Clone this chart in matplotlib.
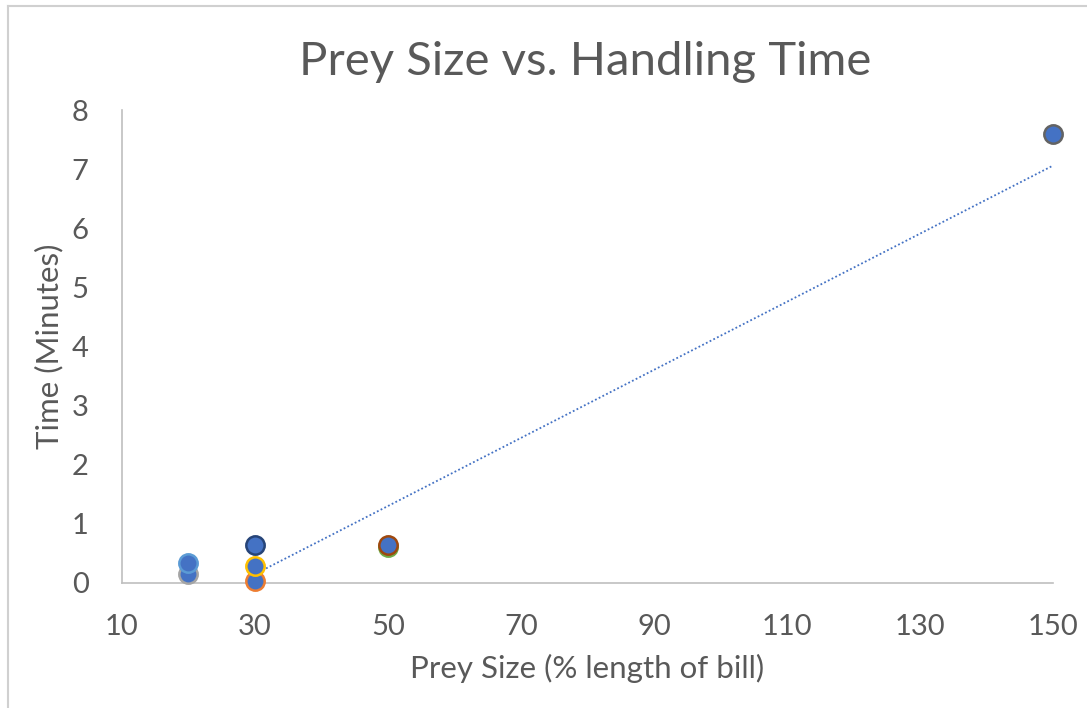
import matplotlib
matplotlib.use("Agg")
import matplotlib.pyplot as plt
from matplotlib.lines import Line2D

# handling time observations, one series per bird/trial
prey_size = [[30], [20], [30], [20], [50], [30], [50], [150]]
handling_time = [[0.03], [0.15], [0.29], [0.33], [0.60], [0.64], [0.64], [7.60]]
edge_colors = ["#ED7D31", "#A5A5A5", "#FFC000", "#5B9BD5",
               "#70AD47", "#264478", "#9E480E", "#636363"]

# linear trendline ends
trend_x = [30, 150]
trend_y = [0.15, 7.06]

x_ticks = [10, 30, 50, 70, 90, 110, 130, 150]
y_ticks = [0, 1, 2, 3, 4, 5, 6, 7, 8]

FILL = "#4472C4"
TEXT = "#595959"
AXIS = "#BFBFBF"

plt.rcParams["font.family"] = ["Lato", "DejaVu Sans"]

fig = plt.figure(figsize=(10.87, 7.08), dpi=100)
ax = fig.add_axes([0.1122, 0.1766, 0.8565, 0.668])

ax.plot(trend_x, trend_y, color=FILL, lw=1.3, ls=(0, (1, 1.3)), zorder=2)

for xs, ys, ec in zip(prey_size, handling_time, edge_colors):
    ax.scatter(xs, ys, s=175, color=FILL, edgecolors=ec, linewidths=1.8,
               zorder=3, clip_on=False)

ax.set_xlim(10, 150)
ax.set_ylim(0, 8)
ax.set_xticks(x_ticks)
ax.set_yticks(y_ticks)
ax.tick_params(length=0, labelsize=21, colors=TEXT)
ax.tick_params(axis="x", pad=22)
ax.tick_params(axis="y", pad=24)
for side in ("top", "right"):
    ax.spines[side].set_visible(False)
for side in ("left", "bottom"):
    ax.spines[side].set_color(AXIS)
    ax.spines[side].set_linewidth(1.2)

ax.set_xlabel("Prey Size (% length of bill)", fontsize=22.5, color=TEXT,
              labelpad=10)
ax.set_ylabel("Time (Minutes)", fontsize=22.5, color=TEXT, labelpad=6)

fig.text(0.5387, 0.912, "Prey Size vs. Handling Time", fontsize=34,
         color=TEXT, ha="center", va="center")

# outer chart frame (left and top edges only)
fig.add_artist(Line2D([0.0072, 0.0072], [0, 0.9915], color="#D0D0D0",
                      lw=1.5, transform=fig.transFigure))
fig.add_artist(Line2D([0.0072, 1], [0.9915, 0.9915], color="#D0D0D0",
                      lw=1.5, transform=fig.transFigure))

fig.savefig("out.png", dpi=100, facecolor="white")
